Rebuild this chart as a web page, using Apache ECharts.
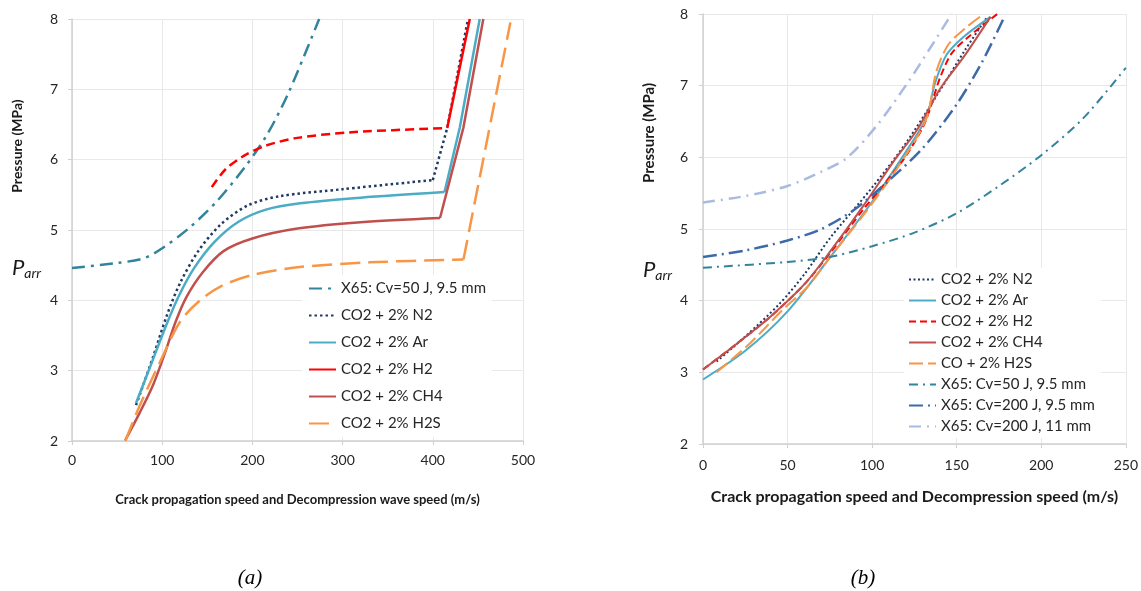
<!DOCTYPE html>
<html>
<head>
<meta charset="utf-8">
<script src="https://cdn.jsdelivr.net/npm/echarts@6/dist/echarts.min.js"></script>
<style>
html,body{margin:0;padding:0;background:#fff;}
#c{width:1141px;height:591px;}
</style>
</head>
<body>
<div id="c"></div>
<script>
// ---------- Chart (a) data: [speed m/s, pressure MPa] ----------
const a_X65_50 = [[0,4.46],[50,4.53],[80,4.6],[100,4.74],[130,5.03],[160,5.4],[192,5.9],[216,6.35],[240,6.95],[274,8.0]];
const a_N2_curve = [[71,2.51],[90,3.2],[105,3.78],[120,4.25],[140,4.7],[165,5.08],[195,5.35],[230,5.48],[300,5.58],[400,5.71]];
const a_N2_rise = [[400,5.71],[416,6.45],[439,8.0]];
const a_Ar_curve = [[71,2.54],[88,3.1],[103,3.6],[118,4.05],[135,4.45],[158,4.83],[185,5.12],[215,5.29],[253,5.38],[320,5.46],[413,5.54]];
const a_Ar_rise = [[413,5.54],[430,6.46],[452,8.0]];
const a_H2_curve = [[155,5.61],[170,5.86],[190,6.05],[215,6.2],[250,6.31],[310,6.39],[416,6.45]];
const a_H2_rise = [[416,6.45],[441,8.0]];
const a_CH4_curve = [[59,2.01],[75,2.4],[90,2.8],[103,3.25],[115,3.7],[127,4.05],[145,4.4],[168,4.7],[200,4.88],[250,5.02],[320,5.11],[408,5.17]];
const a_CH4_rise = [[408,5.17],[434,6.46],[456,8.0]];
const a_H2S_curve = [[59,2.0],[75,2.5],[100,3.19],[120,3.7],[142,4.0],[165,4.2],[200,4.36],[250,4.47],[330,4.54],[434,4.58]];
const a_H2S_rise = [[434,4.58],[486,7.95]];

// ---------- Chart (b) data ----------
const b_N2 = [[8,3.15],[25,3.5],[45,3.95],[60,4.37],[75,4.87],[100,5.58],[120,6.2],[140,6.93],[155,7.5],[168,7.96]];
const b_Ar = [[0,2.9],[25,3.3],[50,3.85],[75,4.6],[100,5.38],[120,6.08],[132,6.55],[137,7.02],[144,7.43],[154,7.68],[170,7.96]];
const b_H2 = [[0,3.04],[20,3.4],[40,3.78],[60,4.23],[75,4.66],[95,5.28],[108,5.65],[120,6.02],[130,6.42],[134,6.66],[140,7.1],[147,7.45],[156,7.66],[174,8.0]];
const b_CH4 = [[0,3.04],[20,3.4],[40,3.78],[60,4.23],[75,4.68],[95,5.33],[112,5.92],[127,6.4],[140,6.95],[155,7.43],[170,7.96]];
const b_H2S = [[8,3.0],[28,3.41],[47,3.87],[62,4.2],[75,4.6],[95,5.2],[112,5.75],[127,6.3],[133,6.6],[138,7.2],[145,7.57],[155,7.8],[166,8.0]];
const b_X65_50 = [[0,4.46],[50,4.54],[75,4.61],[100,4.76],[125,4.95],[150,5.22],[175,5.6],[200,6.03],[225,6.55],[250,7.25]];
const b_X65_200_95 = [[0,4.61],[25,4.7],[50,4.84],[70,5.0],[90,5.28],[110,5.68],[130,6.13],[150,6.74],[165,7.33],[178,7.95]];
const b_X65_200_11 = [[0,5.37],[25,5.46],[50,5.6],[70,5.8],[85,5.99],[103,6.45],[121,7.04],[135,7.55],[147,8.0]];

// ---------- Texts ----------
const namesA = ['X65: Cv=50 J, 9.5 mm','CO2 + 2% N2','CO2 + 2% Ar','CO2 + 2% H2','CO2 + 2% CH4','CO2 + 2% H2S'];
// trailing spaces keep (b) legend entries distinct from (a)
const namesB = ['CO2 + 2% N2 ','CO2 + 2% Ar ','CO2 + 2% H2 ','CO2 + 2% CH4 ','CO + 2% H2S ','X65: Cv=50 J, 9.5 mm ','X65: Cv=200 J, 9.5 mm','X65: Cv=200 J, 11 mm'];
const xNameA = 'Crack propagation speed and Decompression wave speed (m/s)';
const xNameB = 'Crack propagation speed and Decompression speed (m/s)';
const yName = 'Pressure (MPa)';
const xTicksA = {min:0,max:500,interval:100};
const xTicksB = {min:0,max:250,interval:50};
const yTicks = {min:2,max:8,interval:1};

const C = {teal:'#31849B', navy:'#1F3864', ar:'#4BACC6', red:'#FF0000', ch4:'#C0504D', h2s:'#F79646', dblue:'#3D6AA8', lav:'#A9BCE0'};
const FONT = 'Lato';

function ln(name, data, color, width, type, xi, z, smooth){
  return {type:'line', name:name, data:data, xAxisIndex:xi, yAxisIndex:xi, symbol:'circle', showSymbol:false,
    smooth:(smooth===undefined?0.3:smooth), lineStyle:{color:color,width:width,type:type,cap:'butt'}, itemStyle:{color:color}, z:z, animation:false, clip:true};
}

function xAx(ticks, idx, name, nameSize, nameGap, margin){
  return {type:'value', gridIndex:idx, min:ticks.min, max:ticks.max, interval:ticks.interval,
    name:name, nameLocation:'middle', nameGap:nameGap,
    nameTextStyle:{fontFamily:FONT,fontWeight:'bold',fontSize:nameSize,color:'#1a1a1a'},
    axisLine:{show:true,lineStyle:{color:'#D0D0D0',width:1.5}},
    axisTick:{show:true,length:4,lineStyle:{color:'#D0D0D0'}},
    axisLabel:{fontFamily:FONT,fontSize:14,color:'#262626',margin:margin},
    splitLine:{show:true,lineStyle:{color:'#E8E8E8',width:1}}};
}
function yAx(idx, margin){
  return {type:'value', gridIndex:idx, min:yTicks.min, max:yTicks.max, interval:yTicks.interval,
    axisLine:{show:true,lineStyle:{color:'#D0D0D0',width:1.5}},
    axisTick:{show:true,length:4,lineStyle:{color:'#D0D0D0'}},
    axisLabel:{fontFamily:FONT,fontSize:14,color:'#262626',margin:margin},
    splitLine:{show:true,lineStyle:{color:'#E8E8E8',width:1}}};
}

const series = [
  ln(namesA[0], a_X65_50, C.teal, 2.5, [13,6,3,6], 0, 1),
  ln(namesA[1], a_N2_curve, C.navy, 2.5, [2.5,3], 0, 2),
  ln(namesA[1], a_N2_rise, C.navy, 2.5, [2.5,3], 0, 2, false),
  ln(namesA[2], a_Ar_curve, C.ar, 2.5, 'solid', 0, 3),
  ln(namesA[2], a_Ar_rise, C.ar, 2.5, 'solid', 0, 3, false),
  ln(namesA[3], a_H2_rise, C.red, 2.5, 'solid', 0, 4, false),
  ln(namesA[3], a_H2_curve, C.red, 2.5, [9,5], 0, 4),
  ln(namesA[4], a_CH4_curve, C.ch4, 2.5, 'solid', 0, 5),
  ln(namesA[4], a_CH4_rise, C.ch4, 2.5, 'solid', 0, 5, false),
  ln(namesA[5], a_H2S_curve, C.h2s, 2.5, [20,8], 0, 6),
  ln(namesA[5], a_H2S_rise, C.h2s, 2.5, [20,8], 0, 6, false),

  ln(namesB[0], b_N2, C.navy, 2, [2,2.5], 1, 1),
  ln(namesB[1], b_Ar, C.ar, 2, 'solid', 1, 2),
  ln(namesB[2], b_H2, C.red, 2, [7,4], 1, 3),
  ln(namesB[3], b_CH4, C.ch4, 2, 'solid', 1, 4),
  ln(namesB[4], b_H2S, C.h2s, 2, [14,5], 1, 5),
  ln(namesB[5], b_X65_50, C.teal, 2, [9,5,2,5], 1, 6),
  ln(namesB[6], b_X65_200_95, C.dblue, 2.5, [14,5,2,5], 1, 7),
  ln(namesB[7], b_X65_200_11, C.lav, 2.5, [12,6,2,6], 1, 8)
];

const chart = echarts.init(document.getElementById('c'), null, {renderer:'canvas'});
chart.setOption({
  animation:false,
  backgroundColor:'#fff',
  grid:[
    {left:72, top:19, width:451, height:422, containLabel:false},
    {left:703, top:14, width:423, height:430, containLabel:false}
  ],
  xAxis:[ xAx(xTicksA,0,xNameA,13,52,12), xAx(xTicksB,1,xNameB,16,45,14) ],
  yAxis:[ yAx(0,14), yAx(1,15) ],
  legend:[
    {data:namesA, orient:'vertical', left:302, top:275, padding:[6,6,6,6], itemWidth:27, itemHeight:14, itemGap:12,
     itemStyle:{opacity:0},
     backgroundColor:'#fff', textStyle:{fontFamily:FONT,fontSize:15,color:'#262626'}, selectedMode:false, z:10},
    {data:namesB, orient:'vertical', left:904, top:268, padding:[4,6,4,4], itemWidth:27, itemHeight:14, itemGap:6,
     itemStyle:{opacity:0},
     backgroundColor:'#fff', textStyle:{fontFamily:FONT,fontSize:15,color:'#262626'}, selectedMode:false, z:10}
  ],
  graphic:[
    {type:'text', x:17, y:146, rotation:Math.PI/2, style:{text:yName, fontFamily:FONT, fontWeight:'bold', fontSize:14, fill:'#1a1a1a', align:'center', verticalAlign:'middle'}},
    {type:'text', x:649, y:133, rotation:Math.PI/2, style:{text:yName, fontFamily:FONT, fontWeight:'bold', fontSize:15, fill:'#1a1a1a', align:'center', verticalAlign:'middle'}},
    {type:'text', x:12, y:268, style:{text:'{p|P}{s|arr}', verticalAlign:'middle', rich:{p:{fontFamily:FONT,fontStyle:'italic',fontSize:22,fill:'#1a1a1a'}, s:{fontFamily:FONT,fontStyle:'italic',fontSize:14,fill:'#1a1a1a',padding:[10,0,0,0]}}}},
    {type:'text', x:643, y:270, style:{text:'{p|P}{s|arr}', verticalAlign:'middle', rich:{p:{fontFamily:FONT,fontStyle:'italic',fontSize:22,fill:'#1a1a1a'}, s:{fontFamily:FONT,fontStyle:'italic',fontSize:14,fill:'#1a1a1a',padding:[10,0,0,0]}}}},
    {type:'text', x:250, y:578, style:{text:'(a)', fontFamily:'Liberation Serif', fontStyle:'italic', fontSize:21, fill:'#000', align:'center', verticalAlign:'middle'}},
    {type:'text', x:863, y:578, style:{text:'(b)', fontFamily:'Liberation Serif', fontStyle:'italic', fontSize:21, fill:'#000', align:'center', verticalAlign:'middle'}}
  ],
  series:series
});
</script>
</body>
</html>
